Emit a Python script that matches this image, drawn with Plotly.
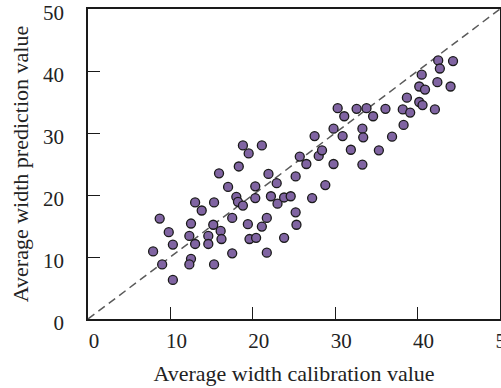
import plotly.graph_objects as go

# Average width: calibration (x) vs prediction (y)
calibration = [
    7.9, 8.7, 9.0, 9.8, 10.3, 10.3, 12.5, 12.3, 13.0, 12.5,
    12.3, 13.0, 13.8, 15.3, 15.2, 14.6, 14.6, 16.1, 16.2, 15.3,
    15.9, 17.0, 18.3, 17.5, 17.5, 18.0, 18.2, 18.8, 19.5, 20.3,
    20.3, 19.4, 19.6, 20.4, 21.1, 21.7, 21.7, 21.9, 22.9, 22.2,
    23.0, 23.8, 23.8, 18.8, 21.1, 24.6, 25.2, 28.8, 27.2, 25.2,
    25.3, 25.7, 26.5, 28.0, 28.4, 29.8, 33.3, 31.9, 35.3, 27.5,
    29.8, 30.9, 33.3, 33.4, 36.9, 30.3, 31.1, 32.6, 33.8, 34.6,
    36.1, 38.3, 38.2, 39.1, 38.7, 40.2, 40.6, 42.1, 40.2, 40.9,
    40.5, 42.4, 44.0, 42.5, 44.3, 42.7,
]
prediction = [
    10.9, 16.2, 8.8, 14.0, 12.0, 6.3, 15.4, 13.4, 12.1, 9.7,
    8.8, 18.8, 17.5, 18.8, 15.2, 13.4, 12.1, 14.2, 12.9, 8.8,
    23.5, 21.3, 24.6, 16.3, 10.6, 19.7, 18.9, 18.3, 26.7, 21.4,
    19.5, 15.3, 12.9, 13.1, 14.9, 16.3, 10.7, 23.4, 21.9, 19.8,
    18.6, 13.1, 19.6, 28.0, 28.0, 19.8, 23.0, 21.6, 19.5, 17.2,
    15.2, 26.2, 25.0, 26.3, 27.2, 25.0, 24.9, 27.3, 27.2, 29.5,
    30.7, 29.5, 30.7, 29.3, 29.4, 34.0, 32.7, 33.9, 34.0, 32.7,
    33.9, 31.3, 33.8, 33.3, 35.7, 35.0, 34.5, 33.8, 37.5, 37.0,
    39.4, 38.2, 37.5, 41.7, 41.6, 40.4,
]

axis_min, axis_max = 0, 50
tick_values = [0, 10, 20, 30, 40, 50]

serif = "'Times New Roman', 'Liberation Serif', 'DejaVu Serif', serif"

fig = go.Figure()

fig.add_trace(go.Scatter(
    x=calibration,
    y=prediction,
    mode="markers",
    marker=dict(size=9, color="#8064A2",
                line=dict(color="#1a1a1a", width=1.3)),
    showlegend=False,
))

# 1:1 reference line
fig.add_shape(
    type="line", xref="x", yref="y",
    x0=axis_min, y0=axis_min, x1=axis_max, y1=axis_max,
    line=dict(color="#5a5a5a", width=1.5, dash="8px,5px"),
    layer="below",
)

axis_common = dict(
    range=[axis_min, axis_max],
    tickvals=tick_values,
    ticks="inside",
    ticklen=12,
    tickwidth=1.3,
    tickcolor="#1a1a1a",
    showline=True,
    linecolor="#1a1a1a",
    linewidth=1.5,
    mirror=True,
    showgrid=False,
    zeroline=False,
    tickfont=dict(family=serif, size=21, color="#222222"),
    ticklabeloverflow="allow",
    automargin=False,
)

fig.update_xaxes(
    **axis_common,
    title=dict(text="Average width calibration value",
               font=dict(family=serif, size=22, color="#222222"),
               standoff=14),
    ticklabelstandoff=2,
    ticklabelshift=6,
)
fig.update_yaxes(
    **axis_common,
    title=dict(text="Average width prediction value",
               font=dict(family=serif, size=22, color="#222222"),
               standoff=8),
    ticklabelstandoff=18,
    ticklabelshift=4,
)

fig.update_layout(
    width=501,
    height=388,
    margin=dict(l=88, r=1, t=9, b=69),
    paper_bgcolor="white",
    plot_bgcolor="white",
    font=dict(family=serif),
)

fig.write_html("out.html")
